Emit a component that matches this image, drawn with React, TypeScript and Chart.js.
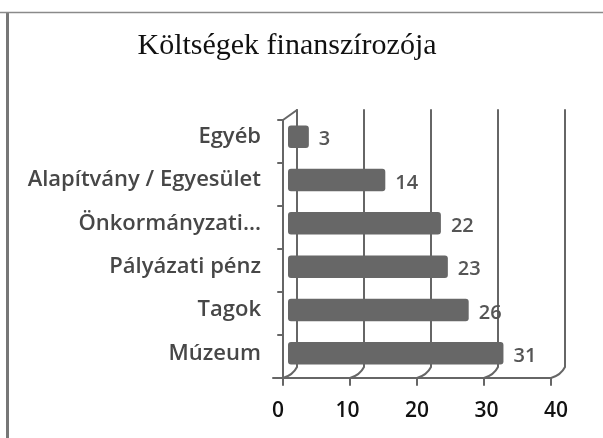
import React, { useEffect, useRef } from "react";
import { Chart, registerables } from "chart.js";

Chart.register(...registerables);

const title = "Költségek finanszírozója";
const categories = [
  "Egyéb",
  "Alapítvány / Egyesület",
  "Önkormányzati...",
  "Pályázati pénz",
  "Tagok",
  "Múzeum",
];
const values = [3, 14, 22, 23, 26, 31];
const xTicks = [0, 10, 20, 30, 40];

const decorPlugin = {
  id: "decor3d",
  beforeDraw(chart: any) {
    const { ctx, width } = chart;
    ctx.save();
    ctx.fillStyle = "#ffffff";
    ctx.fillRect(0, 0, width, chart.height);
    ctx.strokeStyle = "#777";
    ctx.lineWidth = 3;
    ctx.beginPath();
    ctx.moveTo(7.5, 12);
    ctx.lineTo(7.5, chart.height);
    ctx.stroke();
    ctx.strokeStyle = "#8a8a8a";
    ctx.lineWidth = 1.5;
    ctx.beginPath();
    ctx.moveTo(0, 12.5);
    ctx.lineTo(width, 12.5);
    ctx.stroke();
    ctx.restore();
  },
  beforeDatasetsDraw(chart: any) {
    const { ctx, chartArea } = chart;
    const xs = chart.scales.x;
    const left = xs.left;
    const right = xs.right;
    const backL = left + 9;
    const backR = right - 1;
    const backX = (v: number) =>
      backL + (xs.getPixelForValue(v) - left) * ((backR - backL) / (right - left));
    const top = chartArea.top;
    const bottom = chartArea.bottom;
    const backTop = top - 5;
    const backBottom = bottom - 8;
    const front = bottom + 3;
    const dx = 14;
    ctx.save();
    ctx.strokeStyle = "#666";
    ctx.lineWidth = 2;
    ctx.lineCap = "round";
    xTicks.forEach((v) => {
      const bx = backX(v);
      ctx.beginPath();
      ctx.moveTo(bx, backTop);
      ctx.lineTo(bx, backBottom);
      ctx.quadraticCurveTo(bx - 4, backBottom + 8, bx - dx, front);
      ctx.stroke();
      ctx.beginPath();
      ctx.moveTo(bx - dx, front);
      ctx.lineTo(bx - dx, front + 7);
      ctx.stroke();
    });
    ctx.beginPath();
    ctx.moveTo(backX(0) - dx - 10, front);
    ctx.lineTo(backX(40) - dx, front);
    ctx.stroke();
    const lx = backX(0) - dx;
    ctx.beginPath();
    ctx.moveTo(lx, top + 5);
    ctx.lineTo(lx, front);
    ctx.stroke();
    ctx.beginPath();
    ctx.moveTo(lx, top + 5);
    ctx.lineTo(backX(0), backTop);
    ctx.stroke();
    const n = categories.length;
    const step = (front - (top + 5)) / n;
    for (let i = 0; i <= n; i++) {
      const y = top + 5 + i * step;
      ctx.beginPath();
      ctx.moveTo(lx - 5, y);
      ctx.lineTo(lx, y);
      ctx.stroke();
    }
    ctx.restore();
  },
  afterDatasetsDraw(chart: any) {
    const { ctx } = chart;
    const meta = chart.getDatasetMeta(0);
    ctx.save();
    ctx.fillStyle = "#555555";
    ctx.font = "600 20px 'Open Sans'";
    ctx.textAlign = "left";
    ctx.textBaseline = "middle";
    meta.data.forEach((bar: any, i: number) => {
      ctx.fillText(String(values[i]), bar.x + 10, bar.y + 3);
    });
    ctx.restore();
  },
};

export default function App() {
  const ref = useRef<HTMLCanvasElement | null>(null);
  useEffect(() => {
    if (!ref.current) return;
    const chart = new Chart(ref.current, {
      type: "bar",
      data: {
        labels: categories,
        datasets: [
          {
            data: values,
            backgroundColor: "#676767",
            borderRadius: 3,
            borderSkipped: false,
            barPercentage: 0.52,
            categoryPercentage: 1,
          },
        ],
      },
      options: {
        indexAxis: "y",
        animation: false,
        responsive: false,
        layout: { padding: { left: 8, right: 37, top: 0, bottom: 0 } },
        plugins: {
          legend: { display: false },
          tooltip: { enabled: false },
          title: {
            display: true,
            text: title,
            color: "#111",
            font: { family: "'Liberation Serif'", size: 30, weight: "normal" },
            padding: { top: 28, bottom: 51 },
          },
        },
        scales: {
          x: {
            min: 0,
            max: 40,
            ticks: {
              stepSize: 10,
              color: "#111",
              font: { family: "'Open Sans'", size: 21, weight: "600" },
              padding: 23,
              labelOffset: -10,
            },
            grid: { display: false, drawTicks: false },
            border: { display: false },
            afterFit: (s: any) => {
              s.height = 63;
            },
          },
          y: {
            ticks: {
              color: "#474747",
              font: { family: "'Open Sans'", size: 22, weight: "600" },
              padding: 27,
            },
            grid: { display: false, drawTicks: false },
            border: { display: false },
            afterFit: (s: any) => {
              s.width = 280;
            },
          },
        },
      },
      plugins: [decorPlugin],
    });
    return () => chart.destroy();
  }, []);
  return (
    <canvas
      ref={ref}
      width={603}
      height={438}
      style={{ position: "absolute", left: 0, top: 0, width: 603, height: 438 }}
    />
  );
}
